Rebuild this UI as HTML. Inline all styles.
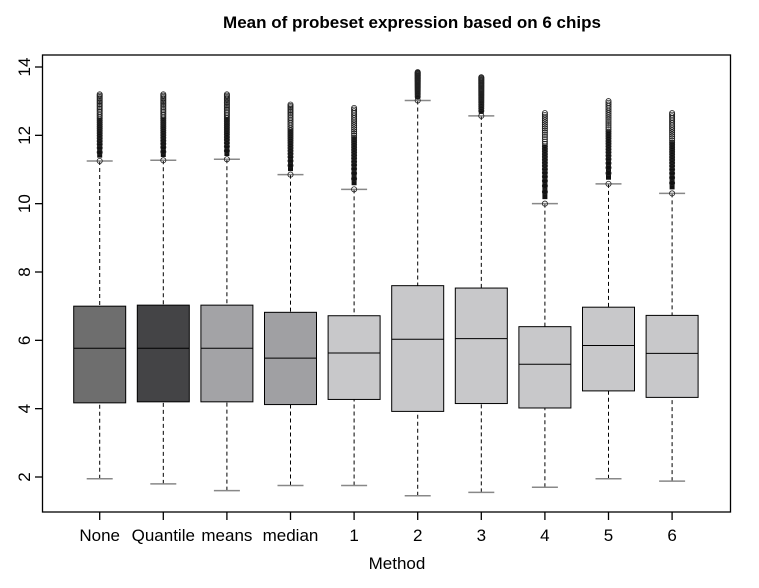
<!DOCTYPE html>
<html><head><meta charset="utf-8"><style>
html,body{margin:0;padding:0;background:#fff;}
svg{display:block;font-family:"Liberation Sans",Arial,sans-serif;}
</style></head><body>
<svg id="chart" width="759" height="588" viewBox="0 0 759 588">
<text x="412" y="28" text-anchor="middle" font-size="17" font-weight="bold">Mean of probeset expression based on 6 chips</text>
<text x="397" y="569" text-anchor="middle" font-size="17">Method</text>
<rect x="42.5" y="55" width="688" height="457" fill="none" stroke="#000" stroke-width="1.3"/>
<g id="g"></g>
</svg>
<script>
const categories=["None","Quantile","means","median","1","2","3","4","5","6"];
const lowWhisker=[1.95,1.8,1.6,1.75,1.75,1.45,1.55,1.7,1.95,1.88];
const q1=[4.17,4.2,4.2,4.12,4.27,3.92,4.15,4.02,4.52,4.33];
const medians=[5.77,5.77,5.77,5.48,5.63,6.03,6.05,5.3,5.85,5.62];
const q3=[7.0,7.03,7.03,6.82,6.72,7.6,7.53,6.4,6.97,6.73];
const highWhisker=[11.25,11.27,11.3,10.85,10.42,13.02,12.57,10.0,10.58,10.3];
const outlierMax=[13.2,13.2,13.2,12.9,12.8,13.85,13.7,12.65,13.0,12.65];
const boxColors=["#6e6e6e","#444446","#a3a3a6","#a0a0a3","#c8c8ca","#c8c8ca","#c8c8ca","#c8c8ca","#c8c8ca","#c8c8ca"];
const yTicks=[2,4,6,8,10,12,14];

const y=v=>477-(v-2)*(410/12);
const x=i=>99.7+i*63.6;
const NS="http://www.w3.org/2000/svg";
const g=document.getElementById('g');
function mk(t,a,p){const e=document.createElementNS(NS,t);for(const k in a)e.setAttribute(k,a[k]);(p||g).appendChild(e);return e;}

yTicks.forEach(v=>{
  const t=mk('line',{x1:35,x2:42.5,y1:y(v),y2:y(v),stroke:'#000','stroke-width':1.3});
  
  
  const l=mk('text',{x:0,y:0,'font-size':17,'text-anchor':'middle',transform:`translate(30,${y(v)}) rotate(-90)`});
  l.textContent=v;
  
  
});

categories.forEach((c,i)=>{
  const cx=x(i),w=52,cw=26;
  const tk=mk('line',{x1:cx,x2:cx,y1:512,y2:520,stroke:'#000','stroke-width':1.3});
  
  
  const lb=mk('text',{x:cx,y:541,'font-size':17,'text-anchor':'middle'});
  lb.textContent=c;
  
  
  const wl=mk('line',{x1:cx,x2:cx,y1:y(lowWhisker[i]),y2:y(q1[i]),stroke:'#000','stroke-dasharray':'4,3'});
  
  
  const wh=mk('line',{x1:cx,x2:cx,y1:y(highWhisker[i]),y2:y(q3[i]),stroke:'#000','stroke-dasharray':'4,3'});
  
  
  const cl=mk('line',{x1:cx-cw/2,x2:cx+cw/2,y1:y(lowWhisker[i]),y2:y(lowWhisker[i]),stroke:'#888','stroke-width':1.5});
  
  
  const ch=mk('line',{x1:cx-cw/2,x2:cx+cw/2,y1:y(highWhisker[i]),y2:y(highWhisker[i]),stroke:'#888','stroke-width':1.5});
  
  
  const b=mk('rect',{x:cx-w/2,y:y(q3[i]),width:w,height:y(q1[i])-y(q3[i]),fill:boxColors[i],stroke:'#000','stroke-width':1});
  
  
  const m=mk('line',{x1:cx-w/2,x2:cx+w/2,y1:y(medians[i]),y2:y(medians[i]),stroke:'#000','stroke-width':1});
  
  
  const y0=y(highWhisker[i]),y1=y(outlierMax[i]);
  const bar=mk('rect',{x:cx-2.5,y:y1+(y0-y1)*0.35,width:5,height:(y0-y1)*0.6,fill:'#111'});
  
  
  const n=30;
  for(let k=0;k<=n;k++){
    const t=Math.pow(k/n,0.6);
    const o=mk('circle',{cx:cx,cy:y0-(y0-y1)*t,r:2.6,fill:'none',stroke:'#222','stroke-width':0.8});
    
    
  }
});
</script>
</body></html>
